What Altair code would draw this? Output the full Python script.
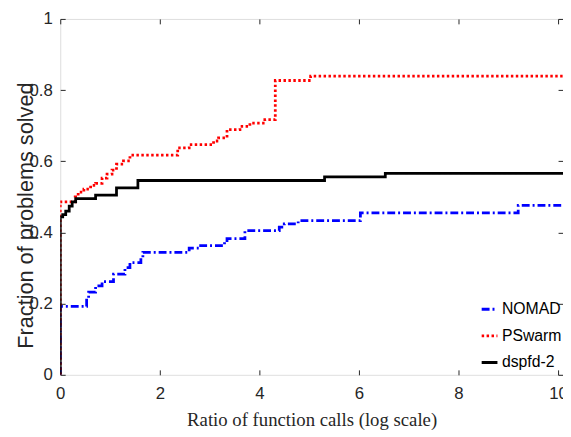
import altair as alt
import pandas as pd

series_names = ["NOMAD", "PSwarm", "dspfd-2"]

nomad_x = [0, 0, 0.53, 0.57, 0.71, 0.84, 1.07, 1.30, 1.40, 1.62, 1.66, 2.59, 2.82, 3.30, 3.35,
           3.71, 4.40, 4.50, 4.78, 6.03, 9.20, 10.1]
nomad_y = [0, 0.192, 0.215, 0.232, 0.250, 0.262, 0.283, 0.301, 0.315, 0.330, 0.344, 0.356, 0.363,
           0.373, 0.383, 0.405, 0.415, 0.424, 0.433, 0.455, 0.476, 0.476]

pswarm_x = [0, 0, 0.30, 0.36, 0.475, 0.61, 0.71, 0.84, 0.94, 1.04, 1.13, 1.27, 1.40, 2.36, 2.59,
            3.08, 3.18, 3.35, 3.61, 3.81, 4.11, 4.32, 5.03, 10.1]
pswarm_y = [0, 0.486, 0.500, 0.513, 0.522, 0.532, 0.538, 0.553, 0.564, 0.575, 0.592, 0.601, 0.617,
            0.638, 0.647, 0.657, 0.666, 0.689, 0.698, 0.707, 0.717, 0.827, 0.839, 0.839]

dspfd_x = [0, 0, 0.05, 0.11, 0.18, 0.24, 0.31, 0.71, 1.13, 1.56, 5.31, 6.53, 10.1]
dspfd_y = [0, 0.444, 0.450, 0.460, 0.474, 0.486, 0.495, 0.505, 0.525, 0.546, 0.556, 0.566, 0.566]

x_ticks = [0, 2, 4, 6, 8, 10]
y_ticks = [0, 0.2, 0.4, 0.6, 0.8, 1]

rows = []
for name, xs, ys in [("NOMAD", nomad_x, nomad_y), ("PSwarm", pswarm_x, pswarm_y),
                     ("dspfd-2", dspfd_x, dspfd_y)]:
    for i, (xv, yv) in enumerate(zip(xs, ys)):
        rows.append({"solver": name, "x": xv, "y": yv, "order": i})
df = pd.DataFrame(rows)

colors = ["#0000ff", "#ff0000", "#000000"]
dashes = [[8, 3, 2, 3], [2.5, 2.5], [1, 0]]

sans = "Liberation Sans, Arial, sans-serif"

xscale = alt.Scale(domain=[0, 10.1], nice=False, zero=False)
yscale = alt.Scale(domain=[0, 1], nice=False)

legend_kw = dict(title=None, orient="none", legendX=426, legendY=285,
                 symbolType="stroke", symbolSize=256, symbolStrokeWidth=3,
                 labelFont=sans, labelFontSize=16, labelColor="#000000",
                 rowPadding=9, labelOffset=3)

lines = alt.Chart(df).mark_line(interpolate="step-after", strokeWidth=2.8, clip=True).encode(
    x=alt.X("x:Q", scale=xscale,
            axis=alt.Axis(values=x_ticks, format="d", offset=-5, tickSize=5, domain=False,
                          grid=False, labelFlush=False, labelPadding=11, labelFont=sans,
                          labelFontSize=17, labelColor="#262626", tickColor="#262626",
                          title="Ratio of function calls (log scale)",
                          titleFont="Liberation Serif", titleFontSize=19, titleFontWeight="normal",
                          titleColor="#262626", titleBaseline="alphabetic", titleY=56)),
    y=alt.Y("y:Q", scale=yscale,
            axis=alt.Axis(values=y_ticks, format="~g", offset=-5, tickSize=5, domain=False,
                          grid=False, labelFlush=False, labelPadding=8, labelFont=sans,
                          labelFontSize=17, labelColor="#262626", tickColor="#262626",
                          title="Fraction of problems solved",
                          titleFont=sans, titleFontSize=22, titleFontWeight="normal",
                          titleColor="#262626", titleBaseline="alphabetic",
                          titleX=-33, titleY=199)),
    color=alt.Color("solver:N", scale=alt.Scale(domain=series_names, range=colors),
                    legend=alt.Legend(**legend_kw)),
    strokeDash=alt.StrokeDash("solver:N", scale=alt.Scale(domain=series_names, range=dashes),
                              legend=alt.Legend(**legend_kw)),
    order="order:Q",
)

frame_axes = alt.Chart(df).mark_point(opacity=0).encode(
    x=alt.X("x:Q", scale=xscale,
            axis=alt.Axis(orient="top", values=x_ticks, offset=-5, tickSize=5, domain=False,
                          grid=False, labels=False, title=None, tickColor="#262626")),
    y=alt.Y("y:Q", scale=yscale,
            axis=alt.Axis(orient="right", values=y_ticks, offset=-5, tickSize=5, domain=False,
                          grid=False, labels=False, title=None, tickColor="#262626")),
)

chart = alt.layer(lines, frame_axes).resolve_axis(x="independent", y="independent").properties(
    width=510, height=361, autosize="none",
    padding={"left": 53, "top": 8, "right": 0, "bottom": 60},
).configure_view(stroke="#262626", strokeWidth=1).configure(background="white")

chart.save("out.html", embed_options={"renderer": "svg", "actions": False})
